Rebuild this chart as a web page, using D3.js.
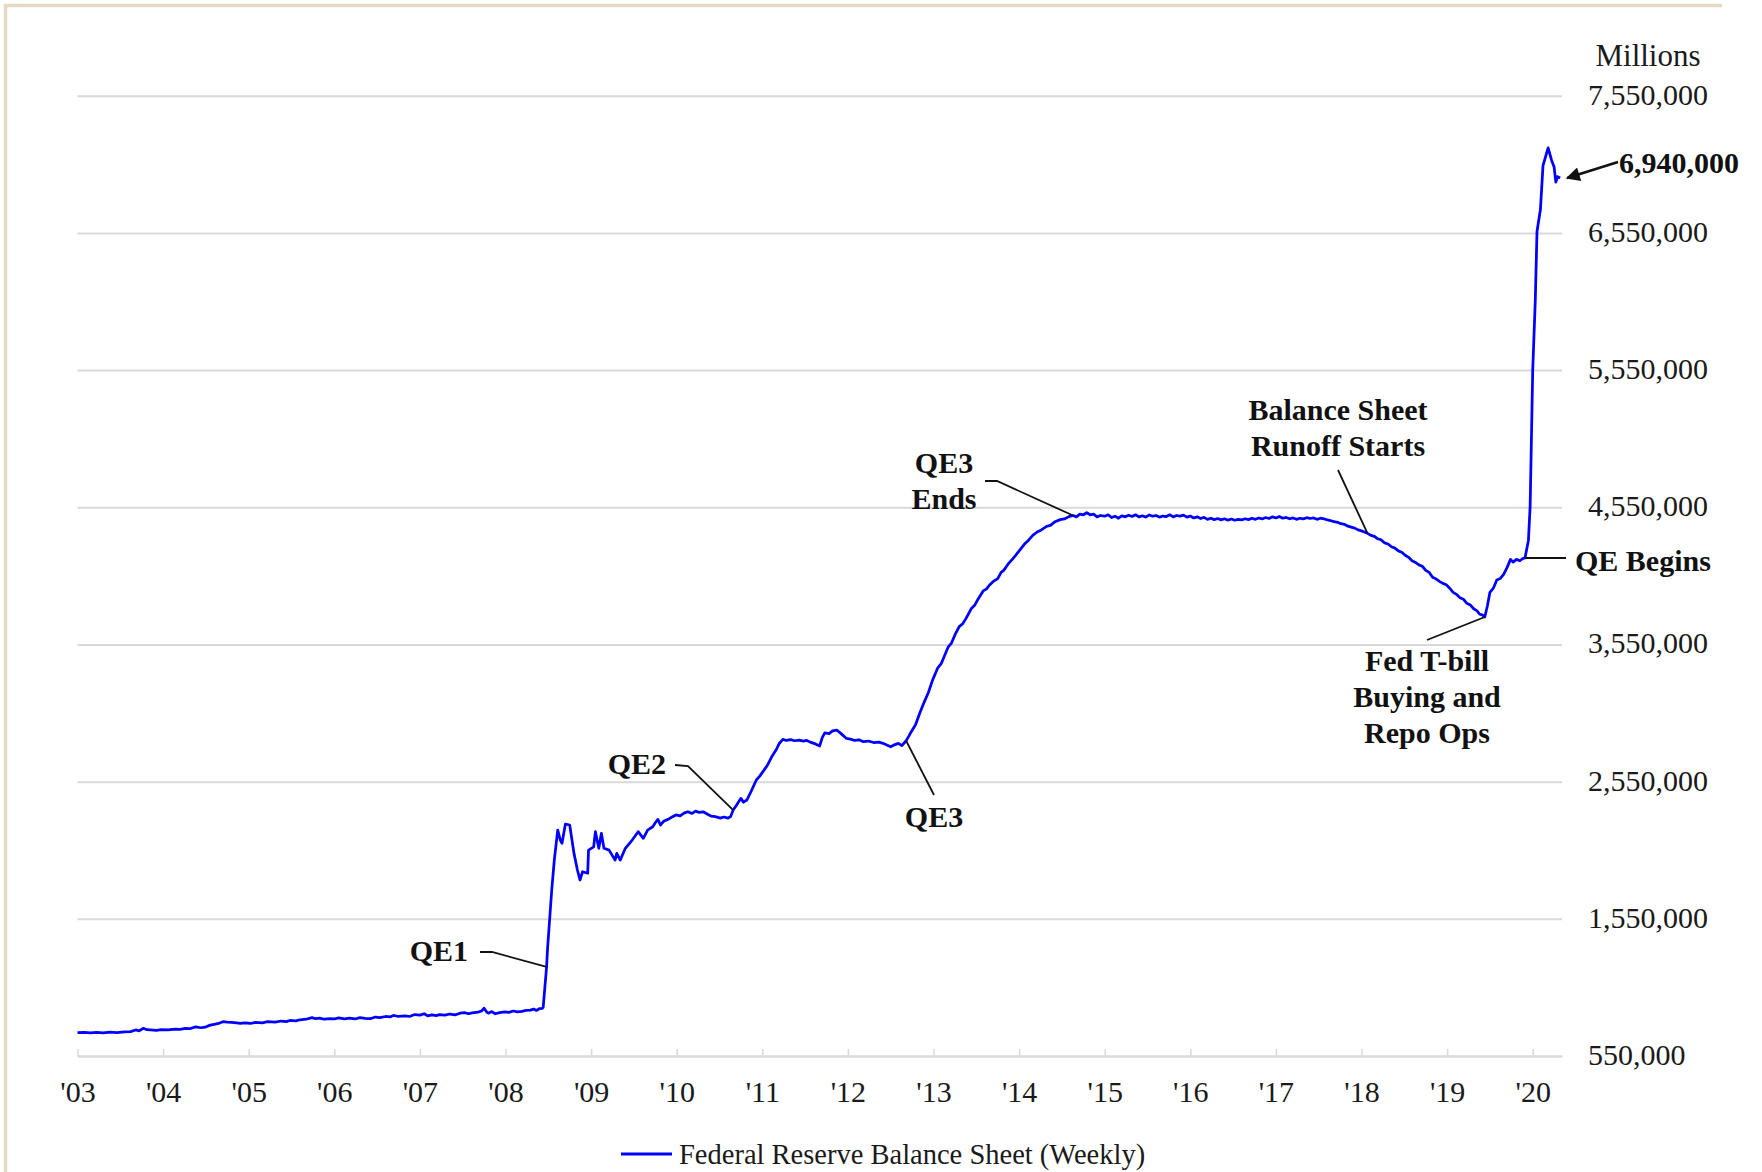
<!DOCTYPE html>
<html>
<head>
<meta charset="utf-8">
<script src="https://cdn.jsdelivr.net/npm/d3@7"></script>
<style>
  body { margin: 0; background: #fff; }
  svg text { font-family: "Liberation Serif", "DejaVu Serif", serif; }
</style>
</head>
<body>
<div id="chart"></div>
<script>
// weekly balance sheet: position on the year axis / billions of dollars
const dates = [
  // 2003 - mid 2008
  2003.00, 2003.08, 2003.15, 2003.22, 2003.30, 2003.38, 2003.46, 2003.55, 2003.62, 2003.68,
  2003.72, 2003.77, 2003.81, 2003.85, 2003.92, 2003.98, 2004.06, 2004.14, 2004.20, 2004.26,
  2004.32, 2004.38, 2004.44, 2004.49, 2004.55, 2004.61, 2004.66, 2004.70, 2004.75, 2004.80,
  2004.86, 2004.90, 2004.96, 2005.02, 2005.08, 2005.16, 2005.22, 2005.31, 2005.38, 2005.44,
  2005.48, 2005.55, 2005.60, 2005.67, 2005.74, 2005.78, 2005.83, 2005.88, 2005.95, 2006.00,
  2006.05, 2006.12, 2006.18, 2006.24, 2006.30, 2006.36, 2006.42, 2006.48, 2006.53, 2006.60,
  2006.65, 2006.69, 2006.75, 2006.83, 2006.88, 2006.94, 2007.00, 2007.05, 2007.09, 2007.14,
  2007.19, 2007.23, 2007.29, 2007.35, 2007.41, 2007.47, 2007.52, 2007.57, 2007.61, 2007.68,
  2007.72, 2007.75, 2007.78, 2007.80, 2007.84, 2007.88, 2007.93, 2007.99, 2008.04, 2008.09,
  2008.14, 2008.19, 2008.24, 2008.29, 2008.33, 2008.36, 2008.40, 2008.43, 2008.44,
  // QE1
  2008.48, 2008.49, 2008.54, 2008.57, 2008.61, 2008.64, 2008.66, 2008.70, 2008.75, 2008.80,
  2008.84, 2008.87, 2008.90, 2008.96, 2008.97, 2009.03, 2009.05, 2009.09, 2009.12, 2009.15,
  2009.21, 2009.28, 2009.30, 2009.34, 2009.40, 2009.48, 2009.55, 2009.61, 2009.66,
  2009.72, 2009.75, 2009.78, 2009.81, 2009.85, 2009.90, 2009.94, 2009.99, 2010.04, 2010.09,
  2010.13, 2010.18, 2010.22, 2010.26, 2010.31, 2010.36, 2010.40, 2010.45, 2010.51, 2010.55,
  2010.60, 2010.63,
  // QE2
  2010.66, 2010.70, 2010.75, 2010.78, 2010.82, 2010.87, 2010.93, 2010.97, 2011.02, 2011.06,
  2011.11, 2011.16, 2011.20, 2011.24,
  2011.28, 2011.33, 2011.38, 2011.43, 2011.48, 2011.52, 2011.56, 2011.62, 2011.67, 2011.70,
  2011.73, 2011.78, 2011.82, 2011.87, 2011.92, 2011.98, 2012.03, 2012.08, 2012.13, 2012.18,
  2012.24, 2012.30, 2012.36, 2012.41, 2012.46, 2012.50, 2012.55, 2012.59, 2012.63, 2012.68,
  2012.71, 2012.74,
  // QE3
  2012.79, 2012.84, 2012.89, 2012.94, 2012.99, 2013.05, 2013.09, 2013.12, 2013.17, 2013.21,
  2013.25, 2013.30, 2013.34, 2013.38, 2013.44, 2013.48, 2013.52, 2013.58, 2013.62, 2013.65,
  2013.70, 2013.75, 2013.79, 2013.82, 2013.87, 2013.92, 2013.96, 2014.01, 2014.06, 2014.11,
  2014.16, 2014.21, 2014.26, 2014.32, 2014.37, 2014.42, 2014.48, 2014.53, 2014.58,
  // plateau
  2014.63, 2014.67, 2014.71, 2014.75, 2014.79, 2014.83, 2014.87, 2014.91, 2014.95, 2015.00,
  2015.04, 2015.08, 2015.12, 2015.16, 2015.20, 2015.24, 2015.28, 2015.32, 2015.36, 2015.40,
  2015.44, 2015.48, 2015.52, 2015.56, 2015.60, 2015.64, 2015.68, 2015.72, 2015.76, 2015.80,
  2015.84, 2015.88, 2015.92, 2015.96, 2016.00, 2016.04, 2016.08, 2016.12, 2016.16, 2016.20,
  2016.24, 2016.28, 2016.32, 2016.36, 2016.40, 2016.44, 2016.48, 2016.52, 2016.56, 2016.60,
  2016.64, 2016.68, 2016.72, 2016.76, 2016.80, 2016.84, 2016.88, 2016.92, 2016.96, 2017.00,
  2017.04, 2017.08, 2017.12, 2017.16, 2017.20, 2017.24, 2017.28, 2017.32, 2017.36, 2017.40,
  2017.44, 2017.48, 2017.52, 2017.56, 2017.60, 2017.64, 2017.68, 2017.72, 2017.76, 2017.80,
  2017.84, 2017.88, 2017.92, 2017.96, 2018.00, 2018.04,
  // runoff
  2018.07, 2018.11, 2018.15, 2018.19, 2018.23, 2018.27, 2018.31, 2018.35, 2018.39, 2018.43,
  2018.47, 2018.51, 2018.55, 2018.59, 2018.63, 2018.67, 2018.71, 2018.75, 2018.79, 2018.83,
  2018.87, 2018.91, 2018.95, 2018.99, 2019.03, 2019.07, 2019.11, 2019.15, 2019.19, 2019.23,
  2019.27, 2019.31, 2019.35, 2019.38, 2019.41,
  // repo ops, QE
  2019.44, 2019.47, 2019.50, 2019.54, 2019.58, 2019.62, 2019.66, 2019.70, 2019.74, 2019.77,
  2019.81, 2019.85, 2019.88, 2019.91, 2019.95, 2019.97, 2020.00, 2020.03, 2020.05, 2020.09,
  2020.12, 2020.18, 2020.22, 2020.25, 2020.27, 2020.29, 2020.32
];
const balance = [
  720, 722, 719, 723, 718, 724, 721, 726, 728, 740,
  733, 752, 742, 740, 737, 742, 740, 746, 744, 752,
  750, 762, 756, 760, 775, 782, 790, 800, 797, 795,
  791, 788, 792, 787, 795, 792, 800, 797, 805, 801,
  809, 806, 814, 818, 830, 822, 826, 818, 823, 820,
  828, 821, 826, 820, 830, 824, 822, 834, 830, 838,
  835, 846, 838, 842, 838, 852, 848, 858, 842, 850,
  844, 852, 848, 856, 850, 862, 866, 858, 864, 870,
  878, 898, 870, 862, 874, 858, 866, 872, 868, 878,
  872, 876, 882, 884, 892, 882, 896, 898, 905,
  1200, 1322, 1760, 1978, 2197, 2124, 2100, 2241, 2234, 2027,
  1906, 1833, 1893, 1882, 2051, 2075, 2185, 2064, 2173, 2064,
  2051, 1978, 2027, 1978, 2064, 2124, 2185, 2137, 2197,
  2221, 2250, 2275, 2234, 2262, 2275, 2290, 2307, 2300, 2322,
  2331, 2318, 2335, 2326, 2330, 2312, 2299, 2295, 2284, 2292,
  2284, 2296,
  2343, 2380, 2428, 2400, 2416, 2480, 2562, 2590, 2634, 2670,
  2731, 2780, 2830, 2858,
  2850, 2856, 2848, 2852, 2845, 2850, 2838, 2825, 2810, 2870,
  2906, 2900, 2920, 2926, 2900, 2866, 2860, 2850, 2855, 2841,
  2846, 2835, 2838, 2829, 2815, 2804, 2820, 2829, 2812, 2848,
  2880, 2914,
  2964, 3050, 3128, 3200, 3292, 3380, 3410, 3455, 3530, 3560,
  3619, 3680, 3700, 3740, 3810, 3835, 3880, 3940, 3955, 3980,
  4010, 4030, 4075, 4090, 4135, 4170, 4200, 4240, 4280, 4310,
  4345, 4370, 4385, 4410, 4420, 4445, 4460, 4465, 4482,
  4490, 4480, 4500, 4495, 4510, 4495, 4500, 4480, 4490, 4485,
  4495, 4475, 4485, 4470, 4488, 4480, 4492, 4483, 4495, 4480,
  4488, 4478, 4494, 4485, 4490, 4478, 4486, 4482, 4495, 4480,
  4490, 4485, 4493, 4478, 4486, 4472, 4480, 4468, 4476, 4462,
  4470, 4460, 4468, 4458, 4466, 4456, 4464, 4455, 4462, 4458,
  4466, 4460, 4470, 4462, 4472, 4465, 4475, 4468, 4480, 4472,
  4482, 4470, 4476, 4466, 4472, 4462, 4470, 4465, 4474, 4468,
  4472, 4462, 4470, 4466, 4458, 4452, 4445, 4440, 4430, 4426,
  4412, 4405, 4398, 4385, 4378, 4368,
  4360, 4345, 4338, 4320, 4312, 4290, 4282, 4262, 4252, 4232,
  4222, 4200, 4185, 4160, 4148, 4130, 4120, 4090, 4075, 4040,
  4028, 4010, 3995, 3985, 3960, 3930, 3915, 3890, 3880, 3850,
  3838, 3810, 3795, 3770, 3765,
  3750, 3830, 3930, 3960, 4020, 4030, 4060, 4110, 4170, 4150,
  4170, 4160, 4175, 4180, 4310, 4560, 5550, 6060, 6560, 6720,
  7040, 7170, 7080, 7030, 6920, 6960, 6950
];
const yearTicks = [2003, 2004, 2005, 2006, 2007, 2008, 2009, 2010, 2011, 2012,
  2013, 2014, 2015, 2016, 2017, 2018, 2019, 2020];
const valueTicks = [550, 1550, 2550, 3550, 4550, 5550, 6550, 7550]; // billions
const latestLabel = "6,940,000";
const seriesName = "Federal Reserve Balance Sheet (Weekly)";

// annotations: text lines, leader elbow (px) and the data point it points at
const notes = [
  { lines: ["QE1"], x: 468, y: 952, anchor: "end", elbow: [[480, 952], [492, 952]], at: [2008.48, 1200] },
  { lines: ["QE2"], x: 666, y: 765, anchor: "end", elbow: [[675, 765], [688, 766]], at: [2010.66, 2343] },
  { lines: ["QE3"], x: 934, y: 818, anchor: "middle", elbow: [[934, 795]], at: [2012.68, 2848] },
  { lines: ["QE3", "Ends"], x: 944, y: 464, anchor: "middle", elbow: [[985, 481], [997, 481]], at: [2014.63, 4490] },
  { lines: ["Balance Sheet", "Runoff Starts"], x: 1338, y: 411, anchor: "middle", elbow: [[1338, 470]], at: [2018.07, 4360] },
  { lines: ["Fed T-bill", "Buying and", "Repo Ops"], x: 1427, y: 662, anchor: "middle", elbow: [[1427, 640]], at: [2019.44, 3750] },
];

const W = 1762, H = 1172;
const PLOT = { left: 77.5, right: 1562, top: 95.7, bottom: 1056 };

const svg = d3.select("#chart").append("svg")
  .attr("width", W).attr("height", H);

// beige frame on the left and top edges
svg.append("path")
  .attr("d", `M5.5,${H} V5.5 H1722`)
  .attr("fill", "none")
  .attr("stroke", "#e6dac7")
  .attr("stroke-width", 3.5);

const x = d3.scaleLinear().domain([2003, 2020.342]).range([PLOT.left, PLOT.right]);
const y = d3.scaleLinear().domain([550, 7550]).range([PLOT.bottom, PLOT.top]);

// gridlines + right labels (shown in millions)
const yAxis = svg.append("g")
  .attr("transform", `translate(${PLOT.right},0)`)
  .call(d3.axisRight(y).tickValues(valueTicks).tickSize(0)
    .tickFormat(d => d3.format(",")(d * 1000)))
  .call(g => g.select(".domain").remove());
yAxis.selectAll(".tick line")
  .attr("x1", -(PLOT.right - PLOT.left)).attr("x2", 0)
  .attr("stroke", "#d9d9d9").attr("stroke-width", 2);
yAxis.selectAll(".tick text")
  .attr("x", 1588 - PLOT.right).attr("dy", "0.28em")
  .attr("text-anchor", "start")
  .attr("font-size", 30).attr("fill", "#1a1a1a")
  .style("font-family", '"Liberation Serif", serif');

svg.append("text")
  .attr("x", 1648).attr("y", 55).attr("dy", "0.35em")
  .attr("text-anchor", "middle").attr("font-size", 31).attr("fill", "#1a1a1a")
  .text("Millions");

// x axis
const xAxis = svg.append("g")
  .attr("transform", `translate(0,${PLOT.bottom})`)
  .call(d3.axisBottom(x).tickValues(yearTicks).tickSizeInner(-7).tickSizeOuter(0)
    .tickFormat(d => "'" + String(d).slice(2)));
xAxis.select(".domain").attr("stroke", "#d9d9d9").attr("stroke-width", 2);
xAxis.selectAll(".tick line").attr("stroke", "#d9d9d9").attr("stroke-width", 1.5);
xAxis.selectAll(".tick text")
  .attr("y", 36).attr("dy", "0.33em")
  .attr("font-size", 30).attr("fill", "#1a1a1a")
  .style("font-family", '"Liberation Serif", serif');

// the series
const series = dates.map((d, i) => [d, balance[i]]);
const line = d3.line().x(d => x(d[0])).y(d => y(d[1]));
svg.append("path")
  .datum(series)
  .attr("fill", "none")
  .attr("stroke", "#0000ff")
  .attr("stroke-width", 2.75)
  .attr("stroke-linejoin", "round")
  .attr("d", line);

// annotations
const ann = svg.append("g").attr("font-weight", "bold").attr("font-size", 30).attr("fill", "#111");
notes.forEach(n => {
  const pts = n.elbow.concat([[x(n.at[0]), y(n.at[1])]]);
  ann.append("path")
    .attr("d", d3.line()(pts))
    .attr("fill", "none").attr("stroke", "#111").attr("stroke-width", 1.8);
  n.lines.forEach((t, i) => {
    ann.append("text")
      .attr("x", n.x).attr("y", n.y + i * 36).attr("dy", "0.3em")
      .attr("text-anchor", n.anchor)
      .text(t);
  });
});

// QE Begins: horizontal leader from the plateau
const qeStart = [2019.91, 4180];
ann.append("line")
  .attr("x1", x(qeStart[0])).attr("x2", 1566)
  .attr("y1", y(qeStart[1])).attr("y2", y(qeStart[1]))
  .attr("stroke", "#111").attr("stroke-width", 1.8);
ann.append("text")
  .attr("x", 1575).attr("y", 562).attr("dy", "0.3em")
  .text("QE Begins");

// latest value arrow
svg.append("defs").append("marker")
  .attr("id", "arrow").attr("viewBox", "0 0 10 10")
  .attr("refX", 9).attr("refY", 5)
  .attr("markerWidth", 18).attr("markerHeight", 14)
  .attr("markerUnits", "userSpaceOnUse")
  .attr("orient", "auto")
  .append("path").attr("d", "M0,0 L10,5 L0,10 z").attr("fill", "#111");
const last = series[series.length - 1];
svg.append("line")
  .attr("x1", 1618).attr("y1", 162)
  .attr("x2", x(last[0]) + 7).attr("y2", y(last[1]))
  .attr("stroke", "#111").attr("stroke-width", 2.5)
  .attr("marker-end", "url(#arrow)");
ann.append("text")
  .attr("x", 1619).attr("y", 164).attr("dy", "0.3em")
  .text(latestLabel);

// legend
const legend = svg.append("g").attr("transform", "translate(621,1154)");
legend.append("line").attr("x1", 0).attr("x2", 51)
  .attr("stroke", "#0000ff").attr("stroke-width", 3);
legend.append("text").attr("x", 58).attr("dy", "0.35em")
  .attr("font-size", 28.5).attr("fill", "#1a1a1a")
  .text(seriesName);
</script>
</body>
</html>
